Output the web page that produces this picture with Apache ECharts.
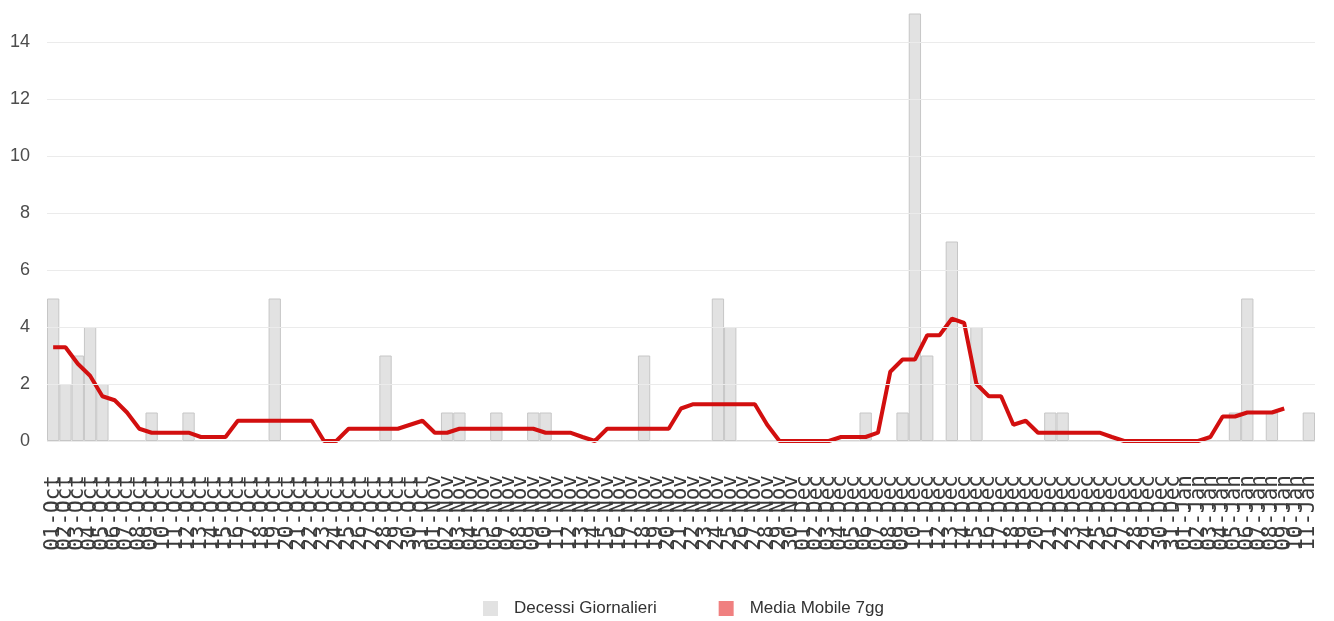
<!DOCTYPE html>
<html lang="it">
<head>
    <meta charset="utf-8" />
    <title>Decessi Giornalieri</title>
    <script src="https://cdn.jsdelivr.net/npm/echarts@6/dist/echarts.min.js"></script>
    <style>
        html, body {
            margin: 0;
            padding: 0;
            background-color: #ffffff;
        }

        #main {
            width: 1334px;
            height: 621px;
        }
    </style>
</head>
<body>
<div id="main"></div>
<script type="text/javascript">
    // giorni (01-Oct .. 11-Jan)
    let days = [
        '01-Oct','02-Oct','03-Oct','04-Oct','05-Oct','06-Oct','07-Oct','08-Oct','09-Oct','10-Oct',
        '11-Oct','12-Oct','13-Oct','14-Oct','15-Oct','16-Oct','17-Oct','18-Oct','19-Oct','20-Oct',
        '21-Oct','22-Oct','23-Oct','24-Oct','25-Oct','26-Oct','27-Oct','28-Oct','29-Oct','30-Oct','31-Oct',
        '01-Nov','02-Nov','03-Nov','04-Nov','05-Nov','06-Nov','07-Nov','08-Nov','09-Nov','10-Nov',
        '11-Nov','12-Nov','13-Nov','14-Nov','15-Nov','16-Nov','17-Nov','18-Nov','19-Nov','20-Nov',
        '21-Nov','22-Nov','23-Nov','24-Nov','25-Nov','26-Nov','27-Nov','28-Nov','29-Nov','30-Nov',
        '01-Dec','02-Dec','03-Dec','04-Dec','05-Dec','06-Dec','07-Dec','08-Dec','09-Dec','10-Dec',
        '11-Dec','12-Dec','13-Dec','14-Dec','15-Dec','16-Dec','17-Dec','18-Dec','19-Dec','20-Dec',
        '21-Dec','22-Dec','23-Dec','24-Dec','25-Dec','26-Dec','27-Dec','28-Dec','29-Dec','30-Dec','31-Dec',
        '01-Jan','02-Jan','03-Jan','04-Jan','05-Jan','06-Jan','07-Jan','08-Jan','09-Jan','10-Jan','11-Jan'
    ]

    let decessi = [
        5, 2, 3, 4, 2, 0, 0, 0, 1, 0,
        0, 1, 0, 0, 0, 0, 0, 0, 5, 0,
        0, 0, 0, 0, 0, 0, 0, 3, 0, 0, 0,
        0, 1, 1, 0, 0, 1, 0, 0, 1, 1,
        0, 0, 0, 0, 0, 0, 0, 3, 0, 0,
        0, 0, 0, 5, 4, 0, 0, 0, 0, 0,
        0, 0, 0, 0, 0, 1, 0, 0, 1, 15,
        3, 0, 7, 0, 4, 0, 0, 0, 0, 0,
        1, 1, 0, 0, 0, 0, 0, 0, 0, 0, 0,
        0, 0, 0, 0, 1, 5, 0, 1, 0, 0, 1
    ]

    let media7gg = [
        3.29, 3.29, 2.71, 2.29, 1.57, 1.43, 1.00, 0.43, 0.29, 0.29,
        0.29, 0.29, 0.14, 0.14, 0.14, 0.71, 0.71, 0.71, 0.71, 0.71,
        0.71, 0.71, 0.00, 0.00, 0.43, 0.43, 0.43, 0.43, 0.43, 0.57, 0.71,
        0.29, 0.29, 0.43, 0.43, 0.43, 0.43, 0.43, 0.43, 0.43, 0.29,
        0.29, 0.29, 0.14, 0.00, 0.43, 0.43, 0.43, 0.43, 0.43, 0.43,
        1.14, 1.29, 1.29, 1.29, 1.29, 1.29, 1.29, 0.57, 0.00, 0.00,
        0.00, 0.00, 0.00, 0.14, 0.14, 0.14, 0.29, 2.43, 2.86, 2.86,
        3.71, 3.71, 4.29, 4.14, 2.00, 1.57, 1.57, 0.57, 0.71, 0.29,
        0.29, 0.29, 0.29, 0.29, 0.29, 0.14, 0.00, 0.00, 0.00, 0.00, 0.00,
        0.00, 0.00, 0.14, 0.86, 0.86, 1.00, 1.00, 1.00, 1.14, null, null, null
    ]

    let yTicks = [0, 2, 4, 6, 8, 10, 12, 14]

    let colorBar = '#e2e2e2'
    let colorBarBorder = '#c6c6c6'
    let colorLine = '#d20f0f'
    let colorLegendLine = '#f08080'
    let colorGrid = '#ebebeb'
    let colorText = '#4d4d4d'

    let myChart = echarts.init(document.getElementById('main'), null, {renderer: 'canvas'})

    let option = {
        animation: false,
        backgroundColor: '#ffffff',
        grid: {
            left: 47,
            right: 19,
            top: 13.5,
            bottom: 180,
            containLabel: false
        },
        legend: {
            top: 595,
            left: 478,
            itemWidth: 15,
            itemHeight: 15,
            itemGap: 62,
            textStyle: {
                fontFamily: 'Liberation Sans, Arial',
                fontSize: 17,
                color: '#333',
                padding: [0, 0, 0, 11]
            },
            data: [
                {name: 'Decessi Giornalieri', icon: 'rect', itemStyle: {color: colorBar, borderWidth: 0}},
                {name: 'Media Mobile 7gg', icon: 'rect', itemStyle: {color: colorLegendLine}}
            ]
        },
        xAxis: {
            type: 'category',
            data: days,
            boundaryGap: true,
            axisLine: {show: false},
            axisTick: {show: false},
            axisLabel: {
                interval: 0,
                rotate: 90,
                margin: 34,
                fontFamily: 'DejaVu Sans Mono',
                fontSize: 21,
                color: '#3a3a3a'
            },
            splitLine: {show: false}
        },
        yAxis: {
            type: 'value',
            min: 0,
            max: 15,
            interval: 2,
            axisLine: {show: false},
            axisTick: {show: false},
            axisLabel: {
                showMaxLabel: false,
                margin: 17,
                fontFamily: 'Liberation Sans, Arial',
                fontSize: 18,
                color: colorText
            },
            splitLine: {show: false}
        },
        series: [
            {
                name: 'Decessi Giornalieri',
                type: 'bar',
                data: decessi,
                barCategoryGap: '0%',
                itemStyle: {
                    color: colorBar,
                    borderColor: colorBarBorder,
                    borderWidth: 1
                },
                markLine: {
                    silent: true,
                    symbol: 'none',
                    label: {show: false},
                    lineStyle: {color: colorGrid, type: 'solid', width: 1},
                    data: yTicks.map(function (v) { return {yAxis: v} })
                },
                z: 1
            },
            {
                name: 'Media Mobile 7gg',
                type: 'line',
                data: media7gg,
                showSymbol: false,
                symbol: 'none',
                lineStyle: {color: colorLine, width: 4},
                itemStyle: {color: colorLine},
                z: 3
            }
        ]
    }

    myChart.setOption(option)
</script>
</body>
</html>
